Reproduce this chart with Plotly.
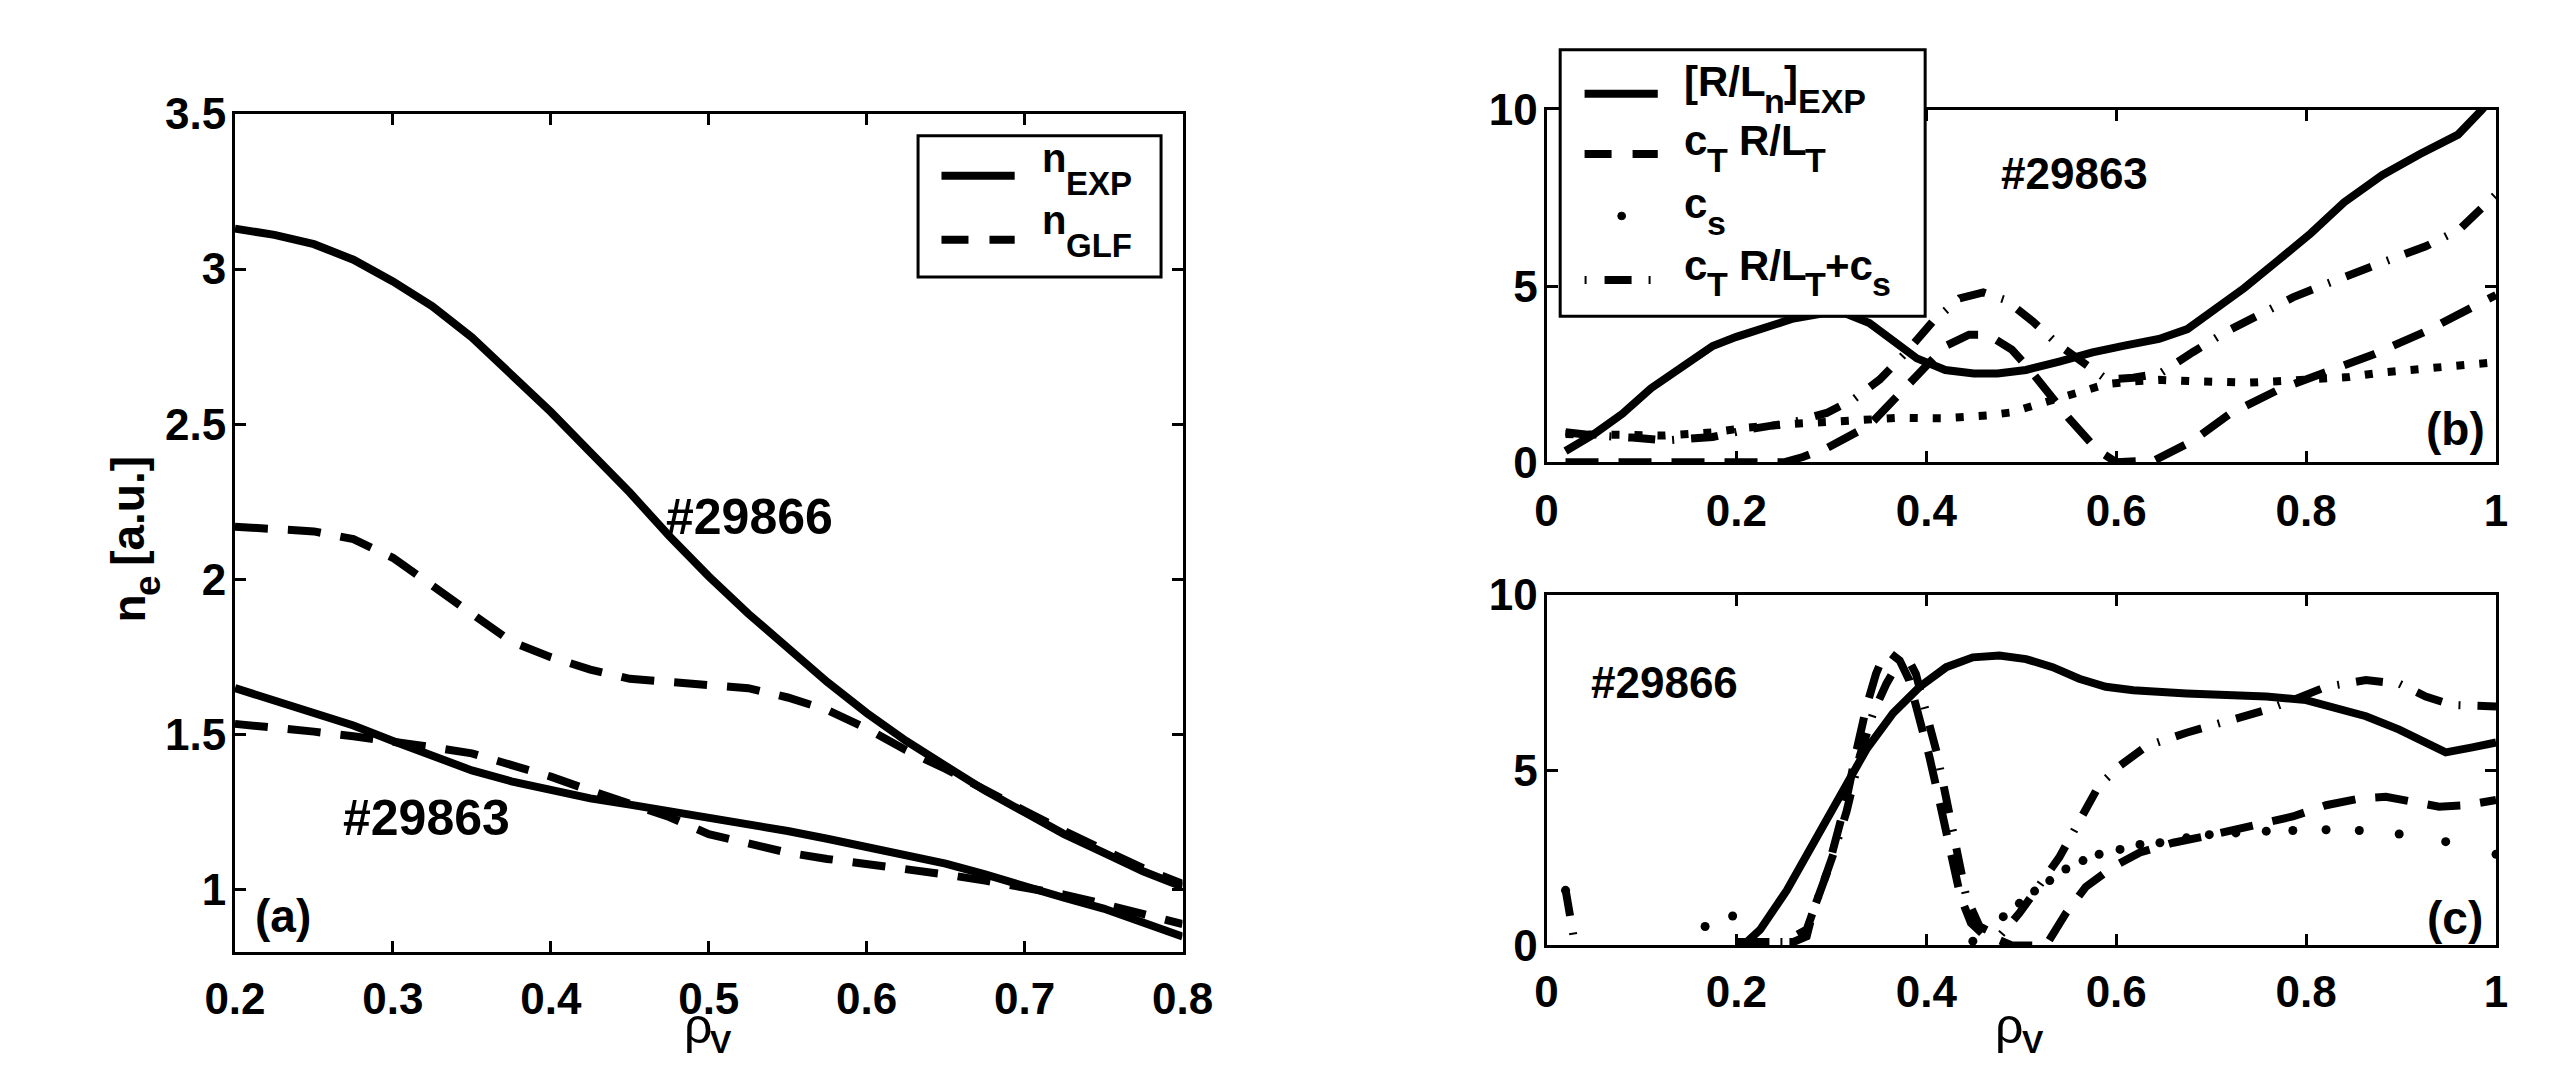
import plotly.graph_objects as go

W, H = 2569, 1083

# ---------------- data: panel (a) ----------------
rho_a = [0.20, 0.225, 0.25, 0.275, 0.30, 0.325, 0.35, 0.375, 0.40, 0.425, 0.45, 0.475, 0.50,
         0.525, 0.55, 0.575, 0.60, 0.625, 0.65, 0.675, 0.70, 0.725, 0.75, 0.775, 0.80]
n_exp_29866 = [3.13, 3.11, 3.08, 3.03, 2.96, 2.88, 2.78, 2.66, 2.54, 2.41, 2.28, 2.14, 2.01,
               1.89, 1.78, 1.67, 1.57, 1.48, 1.40, 1.32, 1.25, 1.18, 1.12, 1.06, 1.01]
n_glf_29866 = [2.17, 2.165, 2.155, 2.13, 2.07, 1.98, 1.89, 1.80, 1.75, 1.71, 1.68, 1.67, 1.66,
               1.65, 1.62, 1.58, 1.52, 1.45, 1.39, 1.32, 1.255, 1.19, 1.13, 1.07, 1.02]
n_exp_29863 = [1.65, 1.61, 1.575, 1.53, 1.48, 1.43, 1.385, 1.35, 1.32, 1.295, 1.275, 1.255, 1.235,
               1.21, 1.19, 1.165, 1.14, 1.115, 1.085, 1.05, 1.01, 0.975, 0.94, 0.895, 0.85]
n_glf_29863 = [1.535, 1.525, 1.51, 1.495, 1.48, 1.46, 1.44, 1.405, 1.365, 1.32, 1.28, 1.235, 1.18,
               1.15, 1.12, 1.10, 1.085, 1.07, 1.05, 1.03, 1.01, 0.985, 0.955, 0.925, 0.89]

# ---------------- data: panel (b) #29863 ----------------
rho_b_exp = [0.02, 0.05, 0.08, 0.11, 0.15, 0.175, 0.2, 0.23, 0.26, 0.29, 0.315, 0.34, 0.365, 0.39,
             0.42, 0.45, 0.475, 0.505, 0.54, 0.575, 0.61, 0.645, 0.675, 0.7, 0.735, 0.77, 0.805,
             0.84, 0.88, 0.92, 0.96, 0.985, 1.0]
rln_exp_b = [0.32, 0.80, 1.38, 2.10, 2.84, 3.30, 3.56, 3.80, 4.08, 4.22, 4.22, 3.95, 3.42, 2.95,
             2.62, 2.52, 2.52, 2.62, 2.86, 3.12, 3.32, 3.50, 3.78, 4.25, 4.95, 5.72, 6.50,
             7.38, 8.15, 8.75, 9.30, 10.0, 10.5]
rho_b_ct = [0.02, 0.25, 0.27, 0.295, 0.34, 0.38, 0.42, 0.445, 0.465, 0.49, 0.51, 0.55, 0.58, 0.60,
            0.64, 0.68, 0.72, 0.77, 0.82, 0.87, 0.925, 0.97, 1.0]
ct_rlt_b = [0.0, 0.0, 0.15, 0.4, 1.05, 2.2, 3.3, 3.62, 3.62, 3.2, 2.6, 1.25, 0.35, 0.0,
            0.05, 0.6, 1.38, 2.05, 2.55, 3.05, 3.7, 4.3, 4.75]
rho_b_cs = [0.02, 0.05, 0.085, 0.125, 0.175, 0.21, 0.26, 0.31, 0.37, 0.417, 0.441, 0.464, 0.488,
            0.512, 0.537, 0.563, 0.59, 0.62, 0.645, 0.68, 0.71, 0.74, 0.77, 0.81, 0.845, 0.88,
            0.92, 0.96, 1.0]
cs_b = [0.80, 0.78, 0.76, 0.76, 0.85, 0.98, 1.09, 1.19, 1.26, 1.25, 1.27, 1.33, 1.41,
        1.60, 1.82, 2.06, 2.22, 2.30, 2.34, 2.30, 2.26, 2.26, 2.30, 2.38, 2.42, 2.55,
        2.64, 2.74, 2.84]
rho_b_sum = [0.02, 0.05, 0.09, 0.126, 0.175, 0.21, 0.26, 0.295, 0.323, 0.351, 0.379, 0.407, 0.435,
             0.46, 0.484, 0.512, 0.54, 0.568, 0.59, 0.618, 0.646, 0.681, 0.716, 0.751, 0.786,
             0.821, 0.856, 0.891, 0.926, 0.961, 1.0]
sum_b = [0.85, 0.76, 0.70, 0.62, 0.72, 0.92, 1.14, 1.40, 1.78, 2.35, 3.13, 4.0, 4.65,
         4.82, 4.6, 4.0, 3.32, 2.74, 2.35, 2.40, 2.52, 3.13, 3.71, 4.19, 4.68,
         5.06, 5.45, 5.78, 6.13, 6.6, 7.6]

# ---------------- data: panel (c) #29866 ----------------
rho_c_exp = [0.207, 0.225, 0.253, 0.281, 0.309, 0.337, 0.365, 0.393, 0.421, 0.449, 0.477, 0.505,
             0.533, 0.561, 0.589, 0.618, 0.674, 0.716, 0.758, 0.8, 0.828, 0.863, 0.898, 0.926,
             0.947, 0.975, 1.0]
rln_exp_c = [0.0, 0.45, 1.57, 2.88, 4.29, 5.6, 6.63, 7.38, 7.94, 8.22, 8.27, 8.17,
             7.94, 7.61, 7.38, 7.28, 7.19, 7.16, 7.10, 7.0, 6.82, 6.54, 6.16, 5.79,
             5.51, 5.65, 5.79]
rho_c_ct = [0.2, 0.26, 0.274, 0.281, 0.295, 0.305, 0.316, 0.326, 0.337, 0.347, 0.355, 0.363, 0.372,
            0.382, 0.392, 0.403, 0.414, 0.425, 0.436, 0.447, 0.46, 0.475, 0.49, 0.526, 0.547,
            0.568, 0.596, 0.625, 0.66, 0.702, 0.751, 0.786, 0.821, 0.856, 0.884, 0.912, 0.94,
            0.968, 1.0]
ct_rlt_c = [0.1, 0.1, 0.26, 1.0, 2.04, 3.07, 4.19, 5.5, 6.82, 7.75, 8.27, 8.32, 8.13,
            7.57, 6.63, 5.41, 4.10, 2.70, 1.39, 0.64, 0.31, 0.17, 0.0, 0.0, 0.92,
            1.67, 2.23, 2.65, 2.93, 3.16, 3.45, 3.68, 4.0, 4.19, 4.24, 4.1, 3.96,
            4.0, 4.15]
rho_c_cs = [0.02, 0.167, 0.196, 0.449, 0.481, 0.498, 0.514, 0.53, 0.547, 0.565, 0.582, 0.604,
            0.625, 0.646, 0.674, 0.698, 0.726, 0.758, 0.786, 0.821, 0.856, 0.898, 0.947, 1.0]
cs_c = [1.57, 0.54, 0.84, 0.12, 0.82, 1.2, 1.55, 1.85, 2.18, 2.42, 2.6, 2.74,
        2.88, 2.93, 3.07, 3.16, 3.21, 3.26, 3.28, 3.3, 3.28, 3.18, 2.96, 2.6]
rho_c_sum = [0.02, 0.032, None, 0.2, 0.25, 0.274, 0.288, 0.302, 0.316, 0.33, 0.344, 0.358, 0.372,
             0.379, 0.389, 0.4, 0.411, 0.421, 0.432, 0.442, 0.456, 0.477, 0.498, 0.519, 0.54,
             0.561, 0.582, 0.604, 0.632, 0.674, 0.716, 0.758, 0.786, 0.821, 0.863, 0.898,
             0.926, 0.954, 1.0]
sum_c = [1.6, -0.3, None, 0.1, 0.1, 0.45, 1.48, 2.6, 3.82, 5.41, 6.63, 7.47, 8.13,
         8.27, 7.75, 6.63, 5.5, 4.19, 2.6, 1.39, 0.54, 0.26, 0.92, 1.67, 2.51,
         3.54, 4.57, 5.13, 5.69, 6.07, 6.4, 6.72, 7.0, 7.38, 7.57, 7.47,
         7.1, 6.86, 6.82]

# ---------------- ticks ----------------
xt_a = [0.2, 0.3, 0.4, 0.5, 0.6, 0.7, 0.8]
xt_a_lab = ["0.2", "0.3", "0.4", "0.5", "0.6", "0.7", "0.8"]
yt_a = [1, 1.5, 2, 2.5, 3, 3.5]
yt_a_lab = ["1", "1.5", "2", "2.5", "3", "3.5"]
xt_bc = [0, 0.2, 0.4, 0.6, 0.8, 1]
xt_bc_lab = ["0", "0.2", "0.4", "0.6", "0.8", "1"]
yt_bc = [0, 5, 10]
yt_bc_lab = ["0", "5", "10"]

# ---------------- styles ----------------
LW = 8
SOLID = "solid"
DASH = "33px,20px"
DOT = "8px,15px"
DASHDOT = "27px,17px,2px,17px"
FONT = "Liberation Sans, Arial, sans-serif"


def px(x):
    return x / W


def py(y):
    return 1 - y / H


fig = go.Figure()


def line(x, y, dash, ax, mode="lines"):
    xa, ya = ax
    fig.add_trace(go.Scatter(x=x, y=y, mode=mode, xaxis=xa, yaxis=ya,
                             line=dict(color="black", width=LW, dash=dash),
                             marker=dict(color="black", size=9),
                             connectgaps=False, showlegend=False, hoverinfo="skip"))


A = ("x", "y")
B = ("x2", "y2")
C = ("x3", "y3")

line(rho_a, n_exp_29866, SOLID, A)
line(rho_a, n_glf_29866, DASH, A)
line(rho_a, n_exp_29863, SOLID, A)
line(rho_a, n_glf_29863, DASH, A)

line(rho_b_cs, cs_b, DOT, B)
line(rho_b_ct, ct_rlt_b, DASH, B)
line(rho_b_sum, sum_b, DASHDOT, B)
line(rho_b_exp, rln_exp_b, SOLID, B)

line(rho_c_cs, cs_c, DOT, C, mode="markers")
line(rho_c_ct, ct_rlt_c, DASH, C)
line(rho_c_sum, sum_c, DASHDOT, C)
line(rho_c_exp, rln_exp_c, SOLID, C)

tickfont = dict(family=FONT, size=44, color="black", weight="bold")


def axis(domain, rng, tv, tt, anchor, standoff):
    return dict(domain=domain, range=rng, anchor=anchor, tickvals=tv, ticktext=tt,
                showline=True, linecolor="black", linewidth=3, mirror="ticks",
                ticks="inside", ticklen=11, tickwidth=3, tickcolor="black",
                showgrid=False, zeroline=False, tickfont=tickfont, fixedrange=True,
                ticklabelstandoff=standoff)


fig.update_layout(
    width=W, height=H, autosize=False,
    margin=dict(l=0, r=0, t=0, b=0),
    paper_bgcolor="white", plot_bgcolor="white", showlegend=False,
    xaxis=axis([px(209), px(1180)], [0.2, 0.8], xt_a, xt_a_lab, "y", 6),
    yaxis=axis([py(971), py(93)], [0.8, 3.5], yt_a, yt_a_lab, "x", -3),
    xaxis2=axis([px(1553), px(2526)], [0, 1], xt_bc, xt_bc_lab, "y2", 8),
    yaxis2=axis([py(458), py(89)], [0, 10], yt_bc, yt_bc_lab, "x2", -3),
    xaxis3=axis([px(1553), px(2526)], [0, 1], xt_bc, xt_bc_lab, "y3", 6),
    yaxis3=axis([py(964), py(597)], [0, 10], yt_bc, yt_bc_lab, "x3", -3),
)

shapes = []
anns = []

# Arial/Liberation Sans Bold advance widths (per 1000 em)
ADV = {"n": 611, "e": 556, "c": 556, "s": 556, "T": 611, "R": 722, "L": 611, "/": 278,
       "[": 333, "]": 333, " ": 278, "+": 584, "E": 667, "X": 667, "P": 667, "G": 778,
       "F": 611, "a": 556, "u": 611, ".": 278}
MID = 0.3465  # distance from baseline to the middle of the text box, in em


def tw(s, size):
    return sum(ADV.get(ch, 556) for ch in s) / 1000.0 * size


def text(x, y, s, size, xanchor="center", yanchor="middle", angle=0, weight="bold"):
    anns.append(dict(x=px(x), y=py(y), xref="paper", yref="paper", text=s, showarrow=False,
                     xanchor=xanchor, yanchor=yanchor, textangle=angle, borderpad=0,
                     font=dict(family=FONT, size=size, color="black", weight=weight)))


def rich(x0, baseline, parts, M, S, drop):
    """Main text with subscripts, each part placed on its own baseline."""
    x = x0
    for s, is_sub in parts:
        size = S if is_sub else M
        b = baseline + (drop if is_sub else 0)
        lead = len(s) - len(s.lstrip(" "))
        x += lead * tw(" ", size)
        core = s.strip(" ")
        text(x, b - MID * size, core, size, xanchor="left")
        x += tw(core, size)


def seg(x0, x1, y, dash):
    shapes.append(dict(type="line", xref="paper", yref="paper", x0=px(x0), x1=px(x1),
                       y0=py(y), y1=py(y), line=dict(color="black", width=LW, dash=dash)))


def box(x0, y0, x1, y1):
    shapes.append(dict(type="rect", xref="paper", yref="paper", x0=px(x0), x1=px(x1),
                       y0=py(y1), y1=py(y0), fillcolor="white",
                       line=dict(color="black", width=3), layer="above"))


# legend (a)
box(909, 116, 1158, 264)
seg(933, 1008, 158, SOLID)
seg(933, 1008, 225, "27px,21px")
rich(1035, 153, [("n", 0), ("EXP", 1)], 40, 33, 24)
rich(1035, 218, [("n", 0), ("GLF", 1)], 40, 33, 24)

# legend (b)
box(1567, 26, 1941, 305)
seg(1592, 1667, 72, SOLID)
seg(1592, 1667, 135, "27px,21px")
shapes.append(dict(type="circle", xref="paper", yref="paper", x0=px(1626), x1=px(1634),
                   y0=py(204), y1=py(196), fillcolor="black", line=dict(color="black", width=1)))
seg(1592, 1667, 267, "2px,18px,27px,17px")
LM, LS, LD = 42, 34, 17
rich(1693, 74, [("[R/L", 0), ("n", 1), ("]", 0), ("EXP", 1)], LM, LS, LD)
rich(1693, 136, [("c", 0), ("T", 1), (" R/L", 0), ("T", 1)], LM, LS, LD)
rich(1693, 202, [("c", 0), ("s", 1)], LM, LS, LD)
rich(1693, 266, [("c", 0), ("T", 1), (" R/L", 0), ("T", 1), ("+c", 0), ("s", 1)], LM, LS, LD)

# in-panel labels
text(736, 515, "#29866", 50)
text(405, 831, "#29863", 50)
text(258, 933, "(a)", 46)
text(2094, 156, "#29863", 44)
text(2484, 423, "(b)", 46)
text(1674, 689, "#29866", 44)
text(2484, 935, "(c)", 46)

# y-axis title of (a), rotated: n_e [a.u.] reading bottom to top
YM, YS = 46, 37
base_x = 116
y_start = 540 + (tw("n", YM) + tw("e", YS) + tw(" [a.u.]", YM)) / 2
text(base_x - MID * YM, y_start - tw("n", YM) / 2, "n", YM, angle=-90)
y_e = y_start - tw("n", YM)
text(base_x + 16 - MID * YS, y_e - tw("e", YS) / 2, "e", YS, angle=-90)
y_b = y_e - tw("e", YS) - tw(" ", YM)
text(base_x - MID * YM, y_b - tw("[a.u.]", YM) / 2, "[a.u.]", YM, angle=-90)

# x-axis titles: rho_V (subscript kept inside the picture)
for x_left in (668, 2012):
    text(x_left, 1066 - MID * 50, "ρ", 50, xanchor="left", weight="normal")
    text(x_left + 27, 1076 - MID * 32, "V", 32, xanchor="left")

fig.update_layout(shapes=shapes, annotations=anns)
fig.write_html("out.html")
